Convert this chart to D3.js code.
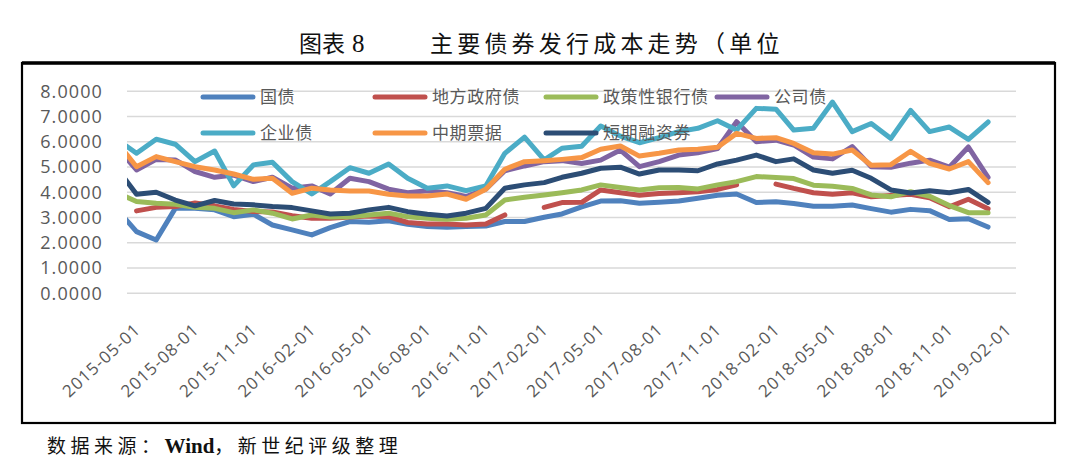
<!DOCTYPE html>
<html><head><meta charset="utf-8">
<script src="https://cdn.jsdelivr.net/npm/d3@7"></script>
<style>
html,body{margin:0;padding:0;background:#fff;}
svg{display:block;}
</style></head>
<body>
<svg id="chart" width="1080" height="467"></svg>
<script>
// ---- data ----
const months = ["2015-04","2015-05","2015-06","2015-07","2015-08","2015-09","2015-10","2015-11","2015-12",
"2016-01","2016-02","2016-03","2016-04","2016-05","2016-06","2016-07","2016-08","2016-09","2016-10","2016-11","2016-12",
"2017-01","2017-02","2017-03","2017-04","2017-05","2017-06","2017-07","2017-08","2017-09","2017-10","2017-11","2017-12",
"2018-01","2018-02","2018-03","2018-04","2018-05","2018-06","2018-07","2018-08","2018-09","2018-10","2018-11","2018-12",
"2019-01"];
const guozhai = [3.28, 2.42,2.09,3.34,3.34,3.28,3.01,3.11,2.68,2.49,2.29,2.58,2.82,
 2.79,2.85,2.71,2.62,2.59,2.62,2.64,2.82,2.82,2.99,3.12,3.40,
 3.63,3.64,3.54,3.58,3.63,3.74,3.86,3.91,3.57,3.60,3.53,3.42,
 3.42,3.47,3.33,3.19,3.30,3.25,2.90,2.93,2.60];
const difang = [null, 3.24,3.38,3.41,3.55,3.44,3.30,3.22,3.20,3.05,2.95,2.95,3.00,
 3.04,3.01,2.78,2.72,2.72,2.68,2.72,3.08,null,3.38,3.57,3.58,
 4.07,3.96,3.86,3.93,3.96,4.00,4.09,4.27,null,4.30,4.13,3.96,
 3.90,3.96,3.80,3.85,3.90,3.76,3.40,3.70,3.32];
const zhengce = [3.95, 3.61,3.54,3.50,3.38,3.34,3.17,3.28,3.15,2.92,3.08,3.00,3.01,
 3.08,3.15,3.01,2.95,2.91,2.95,3.08,3.67,3.78,3.87,3.96,4.07,
 4.27,4.17,4.07,4.16,4.17,4.11,4.27,4.40,4.60,4.56,4.52,4.26,
 4.22,4.13,3.87,3.80,4.00,3.82,3.45,3.17,3.17];
const gongsi = [5.74, 4.86,5.28,5.26,4.80,4.57,4.66,4.40,4.57,4.14,4.23,3.91,4.53,
 4.40,4.10,3.96,4.04,3.96,3.81,4.10,4.83,5.02,5.19,5.23,5.12,
 5.25,5.65,4.99,5.19,5.45,5.54,5.71,6.77,5.98,6.04,5.85,5.37,
 5.30,5.79,4.99,4.97,5.13,5.25,4.97,5.77,4.57];
const qiye = [6.06, 5.52,6.08,5.88,5.19,5.61,4.23,5.06,5.17,4.40,3.91,4.40,4.95,
 4.73,5.10,4.53,4.14,4.23,4.04,4.23,5.52,6.16,5.26,5.72,5.80,
 6.60,6.20,5.94,6.14,6.38,6.51,6.81,6.44,7.30,7.27,6.44,6.51,
 7.55,6.38,6.70,6.11,7.22,6.38,6.56,6.07,6.76];
const zhongqi = [5.93, 4.99,5.39,5.19,4.99,4.86,4.70,4.49,4.53,3.94,4.14,4.07,4.03,
 4.03,3.90,3.83,3.83,3.91,3.70,4.10,4.89,5.19,5.23,5.28,5.35,
 5.68,5.81,5.41,5.52,5.65,5.68,5.76,6.31,6.11,6.14,5.91,5.54,
 5.49,5.65,5.05,5.07,5.60,5.12,4.90,5.19,4.36];
const duanqi = [4.90, 3.90,3.98,3.67,3.44,3.65,3.51,3.48,3.41,3.37,3.24,3.12,3.15,
 3.28,3.38,3.21,3.11,3.04,3.15,3.34,4.14,4.27,4.36,4.57,4.73,
 4.93,4.97,4.70,4.86,4.86,4.83,5.10,5.25,5.45,5.19,5.30,4.86,
 4.73,4.85,4.53,4.07,3.95,4.04,3.96,4.09,3.58];
const seriesNames = ["国债","地方政府债","政策性银行债","公司债","企业债","中期票据","短期融资券"];
const seriesValues = [guozhai, difang, zhengce, gongsi, qiye, zhongqi, duanqi];
const seriesColors = ["#4F81BD","#C0504D","#9BBB59","#8064A2","#4BACC6","#F79646","#2C4D75"];
const yTicks = [0,1,2,3,4,5,6,7,8];
const xTickLabels = ["2015-05-01","2015-08-01","2015-11-01","2016-02-01","2016-05-01","2016-08-01","2016-11-01",
"2017-02-01","2017-05-01","2017-08-01","2017-11-01","2018-02-01","2018-05-01","2018-08-01","2018-11-01","2019-02-01"];
const titleLeftCJK = "图表";
const titleLeftNum = "8";
const titleRight = "主要债券发行成本走势（单位";
const footer1 = "数据来源：";
const footer2 = "Wind";
const footer3 = "，新世纪评级整理";

// ---- layout ----
const svg = d3.select("#chart");
const plot = {left:127, right:1016, top:90.7, bottom:292.7};
const parseM = d3.timeParse("%Y-%m");
const parseD = d3.timeParse("%Y-%m-%d");
const x = d3.scaleTime()
  .domain([parseD("2015-05-01"), parseD("2019-03-01")])
  .range([plot.left, plot.right]);
const y = d3.scaleLinear().domain([0,8]).range([plot.bottom, plot.top]);
const monthDates = months.map(m => d3.timeDay.offset(parseM(m), 15));

// outer frame
svg.append("rect").attr("x",22).attr("y",63).attr("width",1033).attr("height",360)
  .attr("fill","none").attr("stroke","#000").attr("stroke-width",2.2);
svg.append("line").attr("x1",22).attr("x2",1055).attr("y1",63).attr("y2",63)
  .attr("stroke","#000").attr("stroke-width",3.5);

// title
const tl = svg.append("text").attr("x",299).attr("y",52).attr("fill","#111")
  .attr("font-family","'Noto Sans CJK SC',sans-serif").attr("font-size",23);
tl.append("tspan").text(titleLeftCJK).attr("letter-spacing",0);
tl.append("tspan").text(titleLeftNum).attr("dx",7)
  .attr("font-family","'Liberation Serif',serif").attr("font-size",25);
svg.append("text").attr("x",430).attr("y",52).text(titleRight)
  .attr("font-family","'Noto Sans CJK SC',sans-serif").attr("font-size",23)
  .attr("letter-spacing",4.2).attr("fill","#111");

// footer
const ft = svg.append("text").attr("x",47).attr("y",453)
  .attr("font-family","'Noto Sans CJK SC',sans-serif").attr("font-size",19).attr("fill","#111")
  .attr("letter-spacing",4.5);
ft.append("tspan").text(footer1);
ft.append("tspan").text(footer2).attr("font-family","'Liberation Serif',serif").attr("font-weight","bold")
  .attr("font-size",21).attr("letter-spacing",0);
ft.append("tspan").text(footer3);

// gridlines
const grid = svg.append("g").attr("transform",`translate(${plot.left},0)`)
  .call(d3.axisLeft(y).tickValues(yTicks).tickSize(-(plot.right-plot.left)).tickFormat(""));
grid.select(".domain").remove();
grid.selectAll(".tick line").attr("stroke","#D9D9D9").attr("stroke-width",1.5);

// y labels
const yAxis = svg.append("g").attr("transform",`translate(103,0)`)
  .call(d3.axisLeft(y).tickValues(yTicks).tickSize(0).tickPadding(0).tickFormat(d3.format(".4f")));
yAxis.select(".domain").remove();
yAxis.selectAll("text").attr("font-family","'Open Sans',sans-serif").attr("font-size",18)
  .attr("fill","#595959").attr("letter-spacing",1.1).attr("dy","0.36em");

// x labels
const xTickDates = xTickLabels.map(parseD);
const xAxis = svg.append("g").attr("transform",`translate(0,${plot.bottom})`)
  .call(d3.axisBottom(x).tickValues(xTickDates).tickSize(0).tickFormat((d,i)=>xTickLabels[i]));
xAxis.select(".domain").remove();
xAxis.selectAll("text")
  .attr("font-family","'Open Sans',sans-serif").attr("font-size",17).attr("fill","#595959")
  .attr("letter-spacing",1)
  .attr("text-anchor","end")
  .attr("y",0).attr("dy","0.35em")
  .attr("transform","translate(10,34) rotate(-43)");

// clip
svg.append("clipPath").attr("id","plotclip").append("rect")
  .attr("x",plot.left).attr("y",60).attr("width",plot.right-plot.left).attr("height",300);

const line = d3.line()
  .defined(d => d.v != null)
  .x(d => x(d.date)).y(d => y(d.v));

const lines = svg.append("g").attr("clip-path","url(#plotclip)");
seriesValues.forEach((vals,si) => {
  const data = vals.map((v,i)=>({date:monthDates[i], v}));
  lines.append("path").datum(data).attr("d",line)
    .attr("fill","none").attr("stroke",seriesColors[si]).attr("stroke-width",5)
    .attr("stroke-linejoin","round").attr("stroke-linecap","round");
});

// legend
const legendCols = [203,375,546,717];
const legendRows = [97,133];
const legend = svg.append("g");
seriesNames.forEach((name,i) => {
  const col = i < 4 ? i : i-4;
  const row = i < 4 ? 0 : 1;
  const lx = legendCols[col], ly = legendRows[row];
  legend.append("line").attr("x1",lx).attr("x2",lx+50).attr("y1",ly).attr("y2",ly)
    .attr("stroke",seriesColors[i]).attr("stroke-width",5).attr("stroke-linecap","round");
  legend.append("text").attr("x",lx+57).attr("y",ly).attr("dy","0.36em").text(name)
    .attr("font-family","'Noto Sans CJK SC',sans-serif").attr("font-size",17)
    .attr("letter-spacing",0.6).attr("fill","#595959");
});
</script>
</body></html>
